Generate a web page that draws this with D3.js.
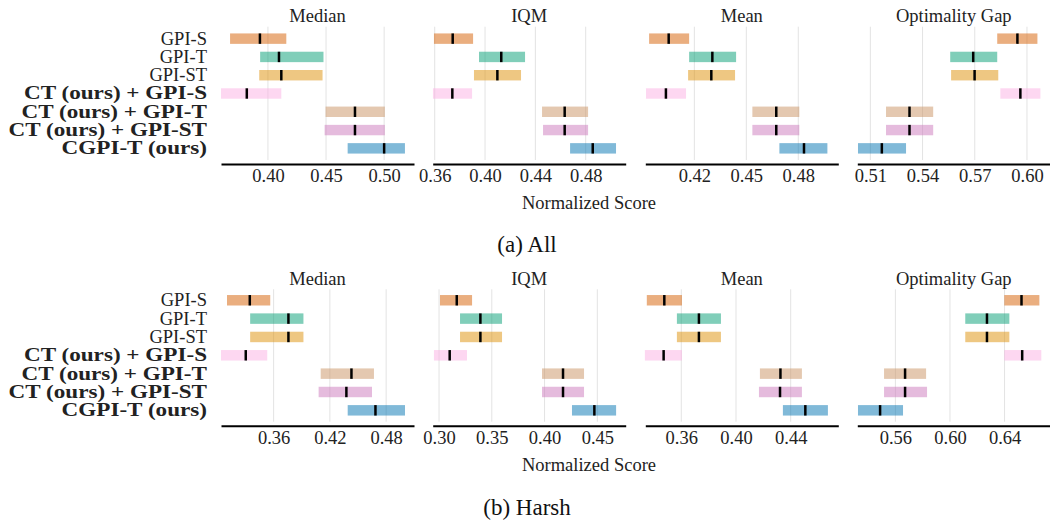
<!DOCTYPE html>
<html>
<head>
<meta charset="utf-8">
<script src="https://cdn.jsdelivr.net/npm/d3@7"></script>
<style>
  html, body { margin: 0; padding: 0; background: #fff; }
  svg { display: block; }
</style>
</head>
<body>
<svg id="chart" width="1050" height="521"></svg>
<script>
// ---------------- data ----------------
const methods = ["GPI-S", "GPI-T", "GPI-ST", "CT (ours) + GPI-S", "CT (ours) + GPI-T", "CT (ours) + GPI-ST", "CGPI-T (ours)"];
const boldMethods = [false, false, false, true, true, true, true];
const metrics = ["Median", "IQM", "Mean", "Optimality Gap"];
const methodColors = ["#D55E00", "#029E73", "#DE8F05", "#FBAFE4", "#CA9161", "#CC78BC", "#0173B2"];

// (a) All
const allMedianPoint = [0.3931, 0.4095, 0.4115, 0.3818, 0.4749, 0.4749, 0.5000];
const allMedianLow   = [0.3674, 0.3933, 0.3925, 0.3596, 0.4496, 0.4488, 0.4686];
const allMedianHigh  = [0.4158, 0.4478, 0.4470, 0.4115, 0.5006, 0.5006, 0.5179];
const allIqmPoint = [0.3743, 0.4129, 0.4098, 0.3740, 0.4633, 0.4633, 0.4856];
const allIqmLow   = [0.3594, 0.3952, 0.3912, 0.3586, 0.4453, 0.4461, 0.4676];
const allIqmHigh  = [0.3905, 0.4318, 0.4286, 0.3897, 0.4819, 0.4819, 0.5041];
const allMeanPoint = [0.4052, 0.4304, 0.4298, 0.4036, 0.4673, 0.4673, 0.4833];
const allMeanLow   = [0.3939, 0.4170, 0.4164, 0.3921, 0.4535, 0.4535, 0.4691];
const allMeanHigh  = [0.4170, 0.4441, 0.4435, 0.4152, 0.4806, 0.4806, 0.4968];
const allGapPoint = [0.5945, 0.5691, 0.5699, 0.5962, 0.5325, 0.5325, 0.5166];
const allGapLow   = [0.5829, 0.5559, 0.5564, 0.5847, 0.5190, 0.5190, 0.5029];
const allGapHigh  = [0.6060, 0.5829, 0.5835, 0.6077, 0.5461, 0.5461, 0.5305];
const allDomains = [[0.3596, 0.5257], [0.3584, 0.5118], [0.3917, 0.5031], [0.5025, 0.6134]];
const allTicks = [[0.40, 0.45, 0.50], [0.36, 0.40, 0.44, 0.48], [0.42, 0.45, 0.48], [0.51, 0.54, 0.57, 0.60]];

// (b) Harsh
const harshMedianPoint = [0.3346, 0.3758, 0.3758, 0.3303, 0.4430, 0.4376, 0.4686];
const harshMedianLow   = [0.3103, 0.3350, 0.3350, 0.3039, 0.4102, 0.4080, 0.4390];
const harshMedianHigh  = [0.3564, 0.3918, 0.3918, 0.3532, 0.4670, 0.4649, 0.5001];
const harshIqmPoint = [0.3168, 0.3392, 0.3392, 0.3101, 0.4175, 0.4175, 0.4472];
const harshIqmLow   = [0.3009, 0.3199, 0.3199, 0.2952, 0.3976, 0.3976, 0.4260];
const harshIqmHigh  = [0.3313, 0.3597, 0.3597, 0.3265, 0.4374, 0.4374, 0.4678];
const harshMeanPoint = [0.3476, 0.3729, 0.3729, 0.3471, 0.4325, 0.4322, 0.4507];
const harshMeanLow   = [0.3348, 0.3568, 0.3568, 0.3334, 0.4175, 0.4168, 0.4343];
const harshMeanHigh  = [0.3605, 0.3890, 0.3890, 0.3605, 0.4482, 0.4482, 0.4672];
const harshGapPoint = [0.6524, 0.6271, 0.6271, 0.6529, 0.5671, 0.5671, 0.5488];
const harshGapLow   = [0.6398, 0.6112, 0.6112, 0.6398, 0.5517, 0.5517, 0.5326];
const harshGapHigh  = [0.6655, 0.6435, 0.6435, 0.6669, 0.5825, 0.5832, 0.5656];
const harshDomains = [[0.3039, 0.5097], [0.2940, 0.4769], [0.3337, 0.4748], [0.5321, 0.6735]];
const harshTicks = [[0.36, 0.42, 0.48], [0.30, 0.35, 0.40, 0.45], [0.36, 0.40, 0.44], [0.56, 0.60, 0.64]];

// --------------- layout ---------------
const serif = "'Liberation Serif', 'Times New Roman', serif";
const textColor = "#222";
const panelX = [221, 432.7, 645.3, 857.3];
const panelW = 193;
const boldStretch = 1.25; // extended bold look (like Computer Modern bold extended)

const sections = [
  {
    caption: "(a) All",
    points: [allMedianPoint, allIqmPoint, allMeanPoint, allGapPoint],
    lows: [allMedianLow, allIqmLow, allMeanLow, allGapLow],
    highs: [allMedianHigh, allIqmHigh, allMeanHigh, allGapHigh],
    domains: allDomains, ticks: allTicks,
    titleY: 16, bandTop: 29.5, bandBottom: 157.5, gridTop: 26.7, gridBottom: 160, axisY: 164,
    xlabelY: 203, captionY: 244
  },
  {
    caption: "(b) Harsh",
    points: [harshMedianPoint, harshIqmPoint, harshMeanPoint, harshGapPoint],
    lows: [harshMedianLow, harshIqmLow, harshMeanLow, harshGapLow],
    highs: [harshMedianHigh, harshIqmHigh, harshMeanHigh, harshGapHigh],
    domains: harshDomains, ticks: harshTicks,
    titleY: 278.5, bandTop: 291.1, bandBottom: 419.5, gridTop: 289.3, gridBottom: 421.7, axisY: 425.7,
    xlabelY: 465, captionY: 507
  }
];

const svg = d3.select("#chart");

sections.forEach(sec => {
  const y = d3.scaleBand().domain(methods).range([sec.bandTop, sec.bandBottom]).padding(0);
  const barH = y.bandwidth() * 0.57;

  // method labels
  const labelAxis = d3.axisLeft(y).tickSize(0).tickPadding(14);
  const lg = svg.append("g").attr("transform", `translate(${panelX[0]},0)`).call(labelAxis);
  lg.select(".domain").remove();
  lg.selectAll(".tick text")
    .attr("fill", textColor)
    .attr("dy", "0.32em")
    .style("font-family", serif)
    .style("font-weight", (d, i) => boldMethods[i] ? "bold" : "normal")
    .style("font-size", "18.5px")
    .each(function (d, i) {
      if (boldMethods[i]) {
        const w = this.getComputedTextLength();
        d3.select(this).attr("textLength", w * boldStretch).attr("lengthAdjust", "spacingAndGlyphs");
      }
    });

  metrics.forEach((metric, m) => {
    const x = d3.scaleLinear().domain(sec.domains[m]).range([panelX[m], panelX[m] + panelW]);
    const g = svg.append("g");

    // grid
    g.selectAll("line.grid").data(sec.ticks[m]).join("line")
      .attr("class", "grid")
      .attr("x1", d => x(d)).attr("x2", d => x(d))
      .attr("y1", sec.gridTop).attr("y2", sec.gridBottom)
      .attr("stroke", "#e3e3e3").attr("stroke-width", 1);

    // title
    g.append("text")
      .attr("x", panelX[m] + panelW / 2).attr("y", sec.titleY)
      .attr("text-anchor", "middle").attr("dominant-baseline", "central")
      .style("font-family", serif).style("font-size", "18.5px").attr("fill", textColor)
      .text(metric);

    // interval bars
    const rows = methods.map((name, i) => ({
      name, i, lo: sec.lows[m][i], hi: sec.highs[m][i], pt: sec.points[m][i]
    }));
    g.selectAll("rect.ci").data(rows).join("rect")
      .attr("class", "ci")
      .attr("x", d => x(d.lo))
      .attr("width", d => x(d.hi) - x(d.lo))
      .attr("y", d => y(d.name) + y.bandwidth() / 2 - barH / 2)
      .attr("height", barH)
      .attr("fill", d => methodColors[d.i])
      .attr("fill-opacity", 0.5);

    // point estimates
    g.selectAll("line.pt").data(rows).join("line")
      .attr("class", "pt")
      .attr("x1", d => x(d.pt)).attr("x2", d => x(d.pt))
      .attr("y1", d => y(d.name) + y.bandwidth() / 2 - barH / 2)
      .attr("y2", d => y(d.name) + y.bandwidth() / 2 + barH / 2)
      .attr("stroke", "#000").attr("stroke-width", 2.5);

    // x axis
    const ax = d3.axisBottom(x).tickValues(sec.ticks[m]).tickFormat(d3.format(".2f"))
      .tickSize(0).tickSizeOuter(0).tickPadding(5);
    const ag = g.append("g").attr("transform", `translate(0,${sec.axisY})`).call(ax);
    ag.select(".domain").attr("stroke", "#000").attr("stroke-width", 2);
    ag.selectAll(".tick text")
      .style("font-family", serif).style("font-size", "18.5px").attr("fill", textColor);
  });

  // x label
  svg.append("text")
    .attr("x", 589).attr("y", sec.xlabelY)
    .attr("text-anchor", "middle").attr("dominant-baseline", "central")
    .style("font-family", serif).style("font-size", "18.5px").attr("fill", textColor)
    .text("Normalized Score");

  // caption
  svg.append("text")
    .attr("x", 527).attr("y", sec.captionY)
    .attr("text-anchor", "middle").attr("dominant-baseline", "central")
    .style("font-family", serif).style("font-size", "23px").attr("fill", "#111")
    .text(sec.caption);
});
</script>
</body>
</html>
